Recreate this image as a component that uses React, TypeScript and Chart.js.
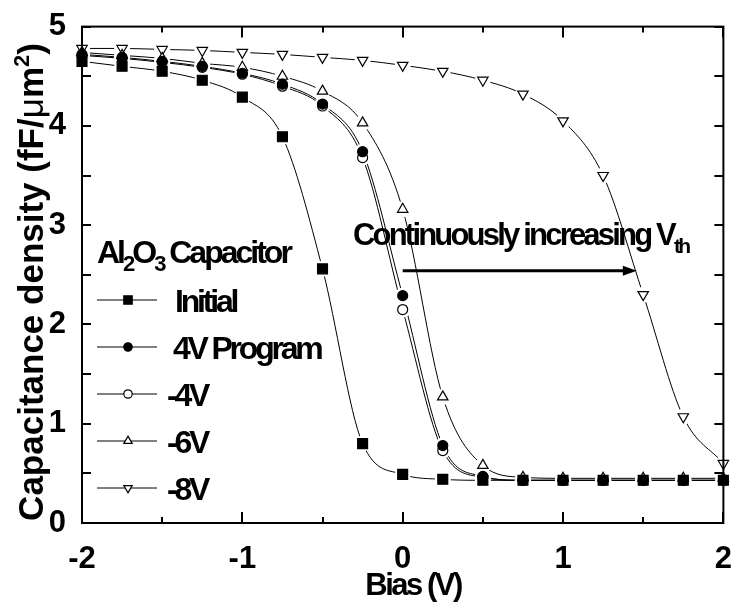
import React, { useEffect, useRef } from 'react';
import { Chart, registerables } from 'chart.js';

Chart.register(...registerables);

// Bias sweep (V)
const biasV = [-2, -1.75, -1.5, -1.25, -1, -0.75, -0.5, -0.25, 0, 0.25, 0.5, 0.75, 1, 1.25, 1.5, 1.75, 2];

// Capacitance density (fF/um^2) for each stress condition
const initialC = [4.65, 4.6, 4.55, 4.46, 4.29, 3.89, 2.56, 0.8, 0.49, 0.44, 0.43, 0.43, 0.43, 0.43, 0.43, 0.43, 0.43];
const program4VC = [4.72, 4.69, 4.65, 4.6, 4.53, 4.42, 4.22, 3.74, 2.29, 0.78, 0.47, 0.43, 0.43, 0.43, 0.43, 0.43, 0.43];
const minus4VC = [4.71, 4.68, 4.64, 4.59, 4.52, 4.4, 4.2, 3.68, 2.15, 0.73, 0.46, 0.43, 0.43, 0.43, 0.43, 0.43, 0.43];
const minus6VC = [4.74, 4.71, 4.68, 4.63, 4.59, 4.5, 4.35, 4.03, 3.16, 1.27, 0.58, 0.46, 0.45, 0.45, 0.45, 0.45, 0.45];
const minus8VC = [4.78, 4.78, 4.77, 4.76, 4.74, 4.72, 4.69, 4.66, 4.61, 4.55, 4.46, 4.32, 4.05, 3.5, 2.3, 1.07, 0.6];

const seriesNames = ['Initial', '4V Program', '-4V', '-6V', '-8V'];
const seriesValues = [initialC, program4VC, minus4VC, minus6VC, minus8VC];
const seriesMarkers = ['square', 'dot', 'ring', 'up', 'down'];

const xMin = -2;
const xMax = 2;
const yMin = 0;
const yMax = 5;

const FONT = '"Liberation Sans", Arial, Helvetica, sans-serif';

type Part = { t: string; size: number; dy?: number; weight?: string };

function drawRich(ctx: CanvasRenderingContext2D, parts: Part[], x: number, y: number, align: 'left' | 'center', spacing: string) {
  ctx.textAlign = 'left';
  ctx.textBaseline = 'alphabetic';
  (ctx as any).letterSpacing = spacing;
  const widths = parts.map((p) => {
    ctx.font = `${p.weight || 'bold'} ${p.size}px ${FONT}`;
    return ctx.measureText(p.t).width;
  });
  const total = widths.reduce((a, b) => a + b, 0);
  let cx = align === 'center' ? x - total / 2 : x;
  parts.forEach((p, i) => {
    ctx.font = `${p.weight || 'bold'} ${p.size}px ${FONT}`;
    ctx.fillText(p.t, cx, y + (p.dy || 0));
    cx += widths[i];
  });
  (ctx as any).letterSpacing = '0px';
}

function drawMarker(ctx: CanvasRenderingContext2D, kind: string, x: number, y: number, r: number) {
  ctx.save();
  ctx.lineWidth = 1.2;
  ctx.strokeStyle = '#000';
  ctx.fillStyle = kind === 'square' || kind === 'dot' ? '#000' : '#fff';
  ctx.beginPath();
  if (kind === 'square') {
    ctx.rect(x - r, y - r, 2 * r, 2 * r);
  } else if (kind === 'dot' || kind === 'ring') {
    ctx.arc(x, y, r, 0, Math.PI * 2);
  } else {
    const s = kind === 'up' ? -1 : 1;
    const R = r * 1.15;
    ctx.moveTo(x, y + s * R);
    ctx.lineTo(x + R * 0.866, y - s * R * 0.5);
    ctx.lineTo(x - R * 0.866, y - s * R * 0.5);
    ctx.closePath();
  }
  ctx.fill();
  ctx.stroke();
  ctx.restore();
}

const decorPlugin = {
  id: 'decor',
  afterDraw(chart: any) {
    const ctx: CanvasRenderingContext2D = chart.ctx;
    const { left, right, top, bottom } = chart.chartArea;
    const xs = chart.scales.x;
    const ys = chart.scales.y;
    ctx.save();
    ctx.strokeStyle = '#000';
    ctx.fillStyle = '#000';

    // frame
    ctx.lineWidth = 2;
    ctx.strokeRect(left, top, right - left, bottom - top);

    // inward ticks, majors and minors on all four sides
    ctx.lineWidth = 2;
    ctx.beginPath();
    for (let v = xMin; v <= xMax + 1e-9; v += 0.5) {
      const px = Math.round(xs.getPixelForValue(v));
      const len = Number.isInteger(v) ? 11 : 6;
      ctx.moveTo(px, bottom);
      ctx.lineTo(px, bottom - len);
      ctx.moveTo(px, top);
      ctx.lineTo(px, top + len);
    }
    for (let v = yMin; v <= yMax + 1e-9; v += 0.5) {
      const py = Math.round(ys.getPixelForValue(v));
      const len = 9;
      ctx.moveTo(left, py);
      ctx.lineTo(left + len, py);
      ctx.moveTo(right, py);
      ctx.lineTo(right - len, py);
    }
    ctx.stroke();

    // axis titles
    drawRich(ctx, [{ t: 'Bias (V)', size: 31 }], 413, 595, 'center', '-2.5px');
    ctx.save();
    ctx.translate(43, 282);
    ctx.rotate(-Math.PI / 2);
    drawRich(
      ctx,
      [
        { t: 'Capacitance density (fF/', size: 35 },
        { t: 'μ', size: 35, weight: 'normal' },
        { t: 'm', size: 35 },
        { t: '2', size: 22, dy: -14 },
        { t: ')', size: 35 },
      ],
      0,
      0,
      'center',
      '0px'
    );
    ctx.restore();

    // legend
    drawRich(
      ctx,
      [
        { t: 'Al', size: 32 },
        { t: '2', size: 22, dy: 8 },
        { t: 'O', size: 32 },
        { t: '3', size: 22, dy: 8 },
        { t: ' Capacitor', size: 32 },
      ],
      97,
      263,
      'left',
      '-3px'
    );
    const rowY = [300, 347, 394, 441, 488];
    const textX = [175, 173, 167, 167, 167];
    seriesNames.forEach((name, i) => {
      const y = rowY[i];
      ctx.lineWidth = 1;
      ctx.beginPath();
      ctx.moveTo(97, y);
      ctx.lineTo(157, y);
      ctx.stroke();
      drawMarker(ctx, seriesMarkers[i], 128, y, 4.2);
      ctx.fillStyle = '#000';
      drawRich(ctx, [{ t: name, size: 32 }], textX[i], y + 11.5, 'left', '-3.2px');
    });

    // shift annotation
    drawRich(
      ctx,
      [
        { t: 'Continuously increasing ', size: 31 },
        { t: 'V', size: 31 },
        { t: 'th', size: 21, dy: 8 },
      ],
      353,
      245,
      'left',
      '-2.8px'
    );
    const ay = ys.getPixelForValue(2.54);
    const ax0 = xs.getPixelForValue(0);
    const ax1 = xs.getPixelForValue(1.46);
    ctx.lineWidth = 3;
    ctx.beginPath();
    ctx.moveTo(ax0, ay);
    ctx.lineTo(ax1 - 10, ay);
    ctx.stroke();
    ctx.beginPath();
    ctx.moveTo(ax1, ay);
    ctx.lineTo(ax1 - 14, ay - 5);
    ctx.lineTo(ax1 - 14, ay + 5);
    ctx.closePath();
    ctx.fill();

    ctx.restore();
  },
};

function toPoints(values: number[]) {
  return biasV.map((x, i) => ({ x, y: values[i] }));
}

const markerStyles = [
  { pointStyle: 'rect', pointRadius: 7, pointBackgroundColor: '#000' },
  { pointStyle: 'circle', pointRadius: 5, pointBackgroundColor: '#000' },
  { pointStyle: 'circle', pointRadius: 5, pointBackgroundColor: '#fff' },
  { pointStyle: 'triangle', pointRadius: 6, pointBackgroundColor: '#fff' },
  { pointStyle: 'triangle', pointRotation: 180, pointRadius: 6, pointBackgroundColor: '#fff' },
];

export default function App() {
  const canvasRef = useRef<HTMLCanvasElement | null>(null);

  useEffect(() => {
    if (!canvasRef.current) return;
    const datasets: any[] = [];
    seriesValues.forEach((vals, i) => {
      // smooth connecting curve
      datasets.push({
        label: seriesNames[i],
        data: toPoints(vals),
        borderColor: '#000',
        borderWidth: 1,
        pointRadius: 0,
        cubicInterpolationMode: 'monotone',
        fill: false,
        clip: false,
        order: 3,
      });
      // white gap around each symbol
      datasets.push({
        label: seriesNames[i] + ' gap',
        data: toPoints(vals),
        showLine: false,
        pointStyle: 'circle',
        pointRadius: 8,
        pointBorderWidth: 0,
        pointBackgroundColor: '#fff',
        pointBorderColor: '#fff',
        clip: false,
        order: 2,
      });
      // symbols
      datasets.push({
        label: seriesNames[i] + ' symbols',
        data: toPoints(vals),
        showLine: false,
        pointBorderColor: '#000',
        pointBorderWidth: 1.2,
        clip: false,
        order: 1,
        ...markerStyles[i],
      });
    });

    const chart = new Chart(canvasRef.current, {
      type: 'line',
      data: { datasets },
      options: {
        responsive: false,
        animation: false,
        devicePixelRatio: 1,
        layout: { padding: { left: 0, right: 15, top: 21, bottom: 0 } },
        plugins: { legend: { display: false }, tooltip: { enabled: false } },
        scales: {
          x: {
            type: 'linear',
            min: xMin,
            max: xMax,
            grid: { display: false },
            border: { display: false },
            afterFit: (s: any) => {
              s.height = 87;
            },
            ticks: {
              stepSize: 1,
              autoSkip: false,
              maxRotation: 0,
              padding: 10,
              color: '#000',
              font: { family: FONT, size: 31, weight: 'bold' },
              callback: (v: any) => String(v),
            },
          },
          y: {
            type: 'linear',
            min: yMin,
            max: yMax,
            grid: { display: false },
            border: { display: false },
            afterFit: (s: any) => {
              s.width = 82;
            },
            ticks: {
              stepSize: 1,
              padding: 8,
              color: '#000',
              font: { family: FONT, size: 31, weight: 'bold' },
              callback: (v: any) => String(v),
            },
          },
        },
      } as any,
      plugins: [decorPlugin],
    });
    return () => chart.destroy();
  }, []);

  return (
    <div style={{ position: 'absolute', left: 0, top: 0, width: 742, height: 610, background: '#fff' }}>
      <canvas ref={canvasRef} width={742} height={610} style={{ display: 'block', width: 742, height: 610 }} />
    </div>
  );
}
